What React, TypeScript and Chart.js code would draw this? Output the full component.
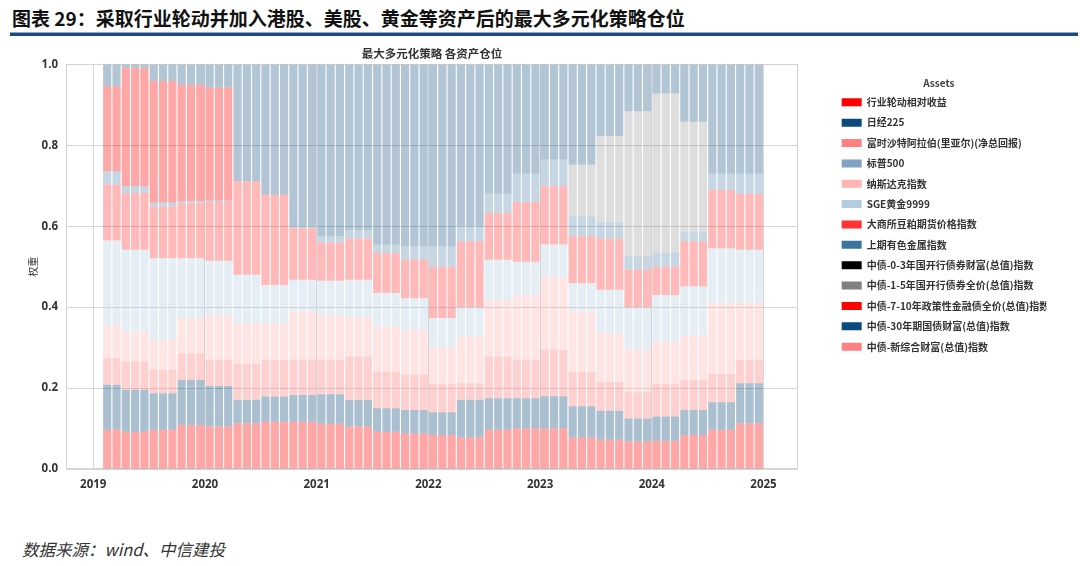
import React, { useEffect, useRef } from "react";
import { Chart, registerables } from "chart.js";

Chart.register(...registerables);

// ---------- data (weights per quarterly rebalance) ----------
const quarterLabels = [
  "2019Q1", "2019Q2", "2019Q3", "2019Q4",
  "2020Q1", "2020Q2", "2020Q3", "2020Q4",
  "2021Q1", "2021Q2", "2021Q3", "2021Q4",
  "2022Q1", "2022Q2", "2022Q3", "2022Q4",
  "2023Q1", "2023Q2", "2023Q3", "2023Q4",
  "2024Q1", "2024Q2", "2024Q3", "2024Q4",
];
// first quarter starts in February 2019 (data begins late January)
const quarterMonths = [
  [1, 2], [3, 4, 5], [6, 7, 8], [9, 10, 11],
  [12, 13, 14], [15, 16, 17], [18, 19, 20], [21, 22, 23],
  [24, 25, 26], [27, 28, 29], [30, 31, 32], [33, 34, 35],
  [36, 37, 38], [39, 40, 41], [42, 43, 44], [45, 46, 47],
  [48, 49, 50], [51, 52, 53], [54, 55, 56], [57, 58, 59],
  [60, 61, 62], [63, 64, 65], [66, 67, 68], [69, 70, 71],
];

const assetNames = [
  "行业轮动相对收益",
  "日经225",
  "富时沙特阿拉伯(里亚尔)(净总回报)",
  "标普500",
  "纳斯达克指数",
  "SGE黄金9999",
  "大商所豆粕期货价格指数",
  "上期有色金属指数",
  "中债-0-3年国开行债券财富(总值)指数",
  "中债-1-5年国开行债券全价(总值)指数",
  "中债-7-10年政策性金融债全价(总值)指数",
  "中债-30年期国债财富(总值)指数",
  "中债-新综合财富(总值)指数",
];

const industryRotation = [0.097, 0.092, 0.097, 0.109, 0.105, 0.113, 0.117, 0.117, 0.112, 0.105, 0.092, 0.088, 0.084, 0.078, 0.097, 0.100, 0.100, 0.078, 0.072, 0.068, 0.070, 0.084, 0.097, 0.113];
const nikkei225 = [0.111, 0.104, 0.090, 0.111, 0.100, 0.058, 0.062, 0.066, 0.073, 0.066, 0.058, 0.058, 0.056, 0.093, 0.078, 0.075, 0.080, 0.077, 0.072, 0.057, 0.060, 0.062, 0.068, 0.099];
const ftseSaudi = [0.066, 0.070, 0.058, 0.066, 0.065, 0.089, 0.091, 0.087, 0.085, 0.107, 0.091, 0.087, 0.070, 0.041, 0.103, 0.095, 0.115, 0.085, 0.071, 0.065, 0.080, 0.074, 0.070, 0.058];
const sp500 = [0, 0, 0, 0, 0, 0, 0, 0, 0, 0, 0, 0, 0, 0, 0, 0, 0, 0, 0, 0, 0, 0, 0, 0];
const nasdaq = [0.082, 0.074, 0.074, 0.087, 0.110, 0.100, 0.090, 0.120, 0.110, 0.099, 0.111, 0.111, 0.090, 0.116, 0.140, 0.160, 0.181, 0.150, 0.121, 0.105, 0.105, 0.110, 0.175, 0.140];
const sgeGold = [0.209, 0.202, 0.202, 0.148, 0.135, 0.120, 0.095, 0.078, 0.085, 0.091, 0.083, 0.078, 0.073, 0.072, 0.099, 0.082, 0.079, 0.070, 0.107, 0.105, 0.115, 0.121, 0.135, 0.132];
const soybeanMeal = [0.138, 0.140, 0.128, 0.136, 0.145, 0.231, 0.223, 0.127, 0.095, 0.102, 0.099, 0.095, 0.127, 0.163, 0.116, 0.148, 0.144, 0.115, 0.126, 0.093, 0.070, 0.112, 0.145, 0.138];
const shfeMetals = [0.033, 0.017, 0.009, 0.005, 0.003, 0, 0, 0.005, 0.015, 0.020, 0.020, 0.033, 0.050, 0.037, 0.047, 0.070, 0.066, 0.050, 0.041, 0.033, 0.035, 0.022, 0.040, 0.050];
const cdb0to3 = [0, 0, 0, 0, 0, 0, 0, 0, 0, 0, 0, 0, 0, 0, 0, 0, 0, 0, 0, 0, 0, 0, 0, 0];
const cdb1to5 = [0, 0, 0, 0, 0, 0, 0, 0, 0, 0, 0, 0, 0, 0, 0, 0, 0, 0.127, 0.213, 0.358, 0.393, 0.273, 0, 0];
const policy7to10 = [0.210, 0.293, 0.301, 0.288, 0.280, 0, 0, 0, 0, 0, 0, 0, 0, 0, 0, 0, 0, 0, 0, 0, 0, 0, 0, 0];
const treasury30 = [0.054, 0.008, 0.041, 0.050, 0.057, 0.289, 0.322, 0.400, 0.425, 0.410, 0.446, 0.450, 0.450, 0.400, 0.320, 0.270, 0.235, 0.248, 0.177, 0.116, 0.072, 0.142, 0.270, 0.270];
const newComposite = [0, 0, 0, 0, 0, 0, 0, 0, 0, 0, 0, 0, 0, 0, 0, 0, 0, 0, 0, 0, 0, 0, 0, 0];

const seriesValues = [
  industryRotation, nikkei225, ftseSaudi, sp500, nasdaq, sgeGold, soybeanMeal,
  shfeMetals, cdb0to3, cdb1to5, policy7to10, treasury30, newComposite,
];

const yearTicks = [2019, 2020, 2021, 2022, 2023, 2024, 2025];
const weightTicks = [0, 0.2, 0.4, 0.6, 0.8, 1.0];

// ---------- styles ----------
const legendColors = [
  "#ff0000", "#0b4a7c", "#ff8080", "#7fa3c0", "#ffb3b3", "#b3cde0", "#ff3333",
  "#3a75a0", "#000000", "#808080", "#ff0000", "#0b4a7c", "#ff8080",
];
const barColors = [
  "rgba(255,0,0,0.35)",
  "rgba(11,74,124,0.35)",
  "rgba(255,128,128,0.37)",
  "rgba(127,163,192,0.38)",
  "rgba(255,179,179,0.35)",
  "rgba(179,205,224,0.34)",
  "rgba(255,51,51,0.34)",
  "rgba(58,117,160,0.29)",
  "rgba(0,0,0,0.36)",
  "rgba(128,128,128,0.26)",
  "rgba(255,0,0,0.35)",
  "rgba(11,74,124,0.32)",
  "rgba(255,128,128,0.38)",
];

const FONT = "'Noto Sans CJK SC', 'Noto Sans', sans-serif";
const TICK_FONT = "'Open Sans', 'Noto Sans', sans-serif";

const monthX = (m: number) => 2019 + (m + 0.5) / 12;

const framePlugin = {
  id: "frame",
  beforeDatasetsDraw(chart: any) {
    const { ctx, chartArea } = chart;
    ctx.save();
    ctx.strokeStyle = "#d2d2d2";
    ctx.lineWidth = 1;
    ctx.strokeRect(
      Math.round(chartArea.left) + 0.5,
      Math.round(chartArea.top) + 0.5,
      Math.round(chartArea.right - chartArea.left) - 1,
      Math.round(chartArea.bottom - chartArea.top) - 1
    );
    ctx.restore();
  },
};

export default function App() {
  const canvasRef = useRef<HTMLCanvasElement>(null);

  useEffect(() => {
    const canvas = canvasRef.current;
    if (!canvas) return;

    const datasets = assetNames.map((name, i) => {
      const data: { x: number; y: number }[] = [];
      quarterMonths.forEach((months, q) => {
        months.forEach((m) => data.push({ x: monthX(m), y: seriesValues[i][q] }));
      });
      return {
        label: name,
        data,
        backgroundColor: barColors[i],
        borderWidth: 0,
        barPercentage: 1,
        categoryPercentage: 0.88,
      };
    });

    const chart = new Chart(canvas, {
      type: "bar",
      data: { datasets } as any,
      options: {
        responsive: false,
        animation: false,
        devicePixelRatio: 1,
        events: [],
        layout: { padding: { left: 23, right: 33.7, top: 0, bottom: 11 } },
        scales: {
          x: {
            type: "linear",
            stacked: true,
            offset: false,
            min: 2018.756,
            max: 2025.309,
            afterBuildTicks: (s: any) => {
              s.ticks = yearTicks.map((v) => ({ value: v }));
            },
            afterFit: (s: any) => {
              s.height = 30;
            },
            grid: { color: "#d6d6d6", drawTicks: false, offset: false },
            border: { display: false },
            ticks: {
              padding: 9,
              autoSkip: false,
              maxRotation: 0,
              color: "#333",
              font: { family: TICK_FONT, size: 11.5, weight: "bold" },
              callback: (v: any) => String(v),
            },
          },
          y: {
            stacked: true,
            min: 0,
            max: 1,
            afterBuildTicks: (s: any) => {
              s.ticks = weightTicks.map((v) => ({ value: v }));
            },
            afterFit: (s: any) => {
              s.width = 43;
            },
            grid: { color: "#d6d6d6", drawTicks: false },
            border: { display: false },
            ticks: {
              padding: 8,
              color: "#333",
              font: { family: TICK_FONT, size: 11.5, weight: "bold" },
              callback: (v: any) => Number(v).toFixed(1),
            },
            title: {
              display: true,
              text: "权重",
              color: "#333",
              font: { family: FONT, size: 10 },
              padding: { top: 4, bottom: 0 },
            },
          },
          y2: {
            position: "right",
            display: true,
            min: 0,
            max: 1,
            grid: { display: false },
            border: { display: false },
            ticks: { display: false },
            afterFit: (s: any) => {
              s.width = 33.3;
            },
          },
        },
        plugins: {
          title: {
            display: true,
            text: "最大多元化策略 各资产仓位",
            fullSize: false,
            color: "#333",
            font: { family: FONT, size: 11.5, weight: "bold" },
            padding: { top: 6.8, bottom: 3.8 },
          },
          legend: {
            position: "right",
            align: "start",
            maxWidth: 215,
            title: {
              display: true,
              text: "Assets",
              color: "#444",
              font: { family: FONT, size: 10, weight: "bold" },
              padding: { top: 38.3, bottom: -3.4 },
            },
            labels: {
              boxWidth: 20,
              boxHeight: 8,
              padding: 10.37,
              color: "#333",
              font: { family: FONT, size: 10, weight: "bold" },
              generateLabels: (c: any) =>
                c.data.datasets.map((ds: any, i: number) => ({
                  text: ds.label,
                  fillStyle: legendColors[i],
                  strokeStyle: legendColors[i],
                  fontColor: "#333",
                  lineWidth: 0,
                  hidden: false,
                  datasetIndex: i,
                })),
            },
          },
          tooltip: { enabled: false },
        },
      } as any,
      plugins: [framePlugin],
    });

    return () => chart.destroy();
  }, []);

  return (
    <div
      style={{
        position: "absolute",
        left: 0,
        top: 0,
        width: 1080,
        height: 566,
        background: "#fff",
        overflow: "hidden",
      }}
    >
      <div
        style={{
          position: "absolute",
          left: 12,
          top: 5,
          fontFamily: FONT,
          fontWeight: 700,
          fontSize: 19,
          lineHeight: "25px",
          color: "#111",
          whiteSpace: "nowrap",
        }}
      >
        图表 29：采取行业轮动并加入港股、美股、黄金等资产后的最大多元化策略仓位
      </div>
      <div style={{ position: "absolute", left: 10, top: 32, width: 1068, height: 1, background: "#8aa8c8" }} />
      <div style={{ position: "absolute", left: 10, top: 33, width: 1068, height: 3, background: "#1d4a7e" }} />
      <canvas
        ref={canvasRef}
        width={1080}
        height={470}
        style={{ position: "absolute", left: 0, top: 40, width: 1080, height: 470 }}
      />
      <div
        style={{
          position: "absolute",
          left: 22,
          top: 539,
          fontFamily: FONT,
          fontStyle: "italic",
          fontSize: 16.5,
          lineHeight: "20px",
          color: "#333",
          whiteSpace: "nowrap",
        }}
      >
        数据来源：wind、中信建投
      </div>
    </div>
  );
}
